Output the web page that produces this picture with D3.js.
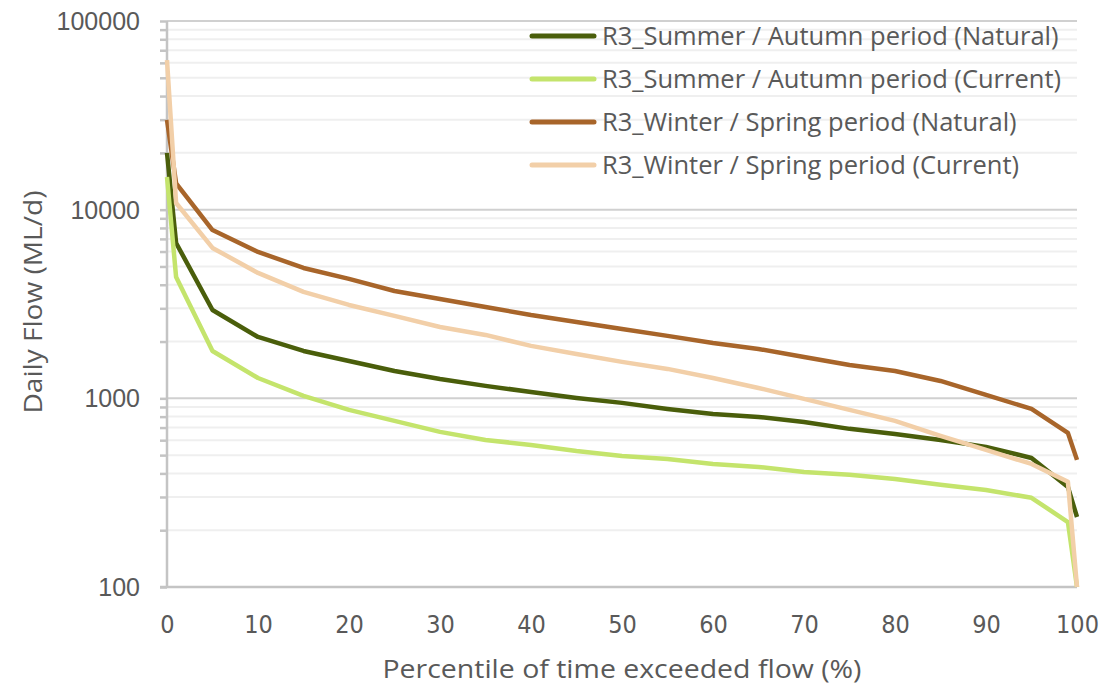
<!DOCTYPE html>
<html>
<head>
<meta charset="utf-8">
<script src="https://cdn.jsdelivr.net/npm/d3@7"></script>
<style>
  html, body { margin: 0; padding: 0; background: #fff; }
  svg { display: block; }
</style>
</head>
<body>
<svg id="chart" width="1106" height="690"></svg>
<script>
// Flow duration curves: percentile of time a daily flow is exceeded
const percentiles = [0, 1, 5, 10, 15, 20, 25, 30, 35, 40, 45, 50, 55, 60, 65, 70, 75, 80, 85, 90, 95, 99, 100];

const summerNatural = [20000, 6660, 2940, 2115, 1783, 1578, 1397, 1267, 1164, 1081, 1005, 946, 879, 826, 797, 750, 689, 647, 602, 553, 483, 339, 235];
const summerCurrent = [14900, 4400, 1783, 1282, 1030, 868, 759, 664, 602, 566, 526, 495, 477, 449, 433, 407, 393, 374, 348, 327, 297, 221, 100];
const winterNatural = [29900, 13800, 7800, 5970, 4910, 4295, 3707, 3363, 3050, 2766, 2541, 2333, 2143, 1966, 1827, 1656, 1503, 1397, 1236, 1042, 879, 656, 472];
const winterCurrent = [62000, 10850, 6270, 4620, 3664, 3126, 2734, 2389, 2168, 1897, 1719, 1560, 1432, 1282, 1135, 993, 868, 759, 632, 533, 449, 361, 100];

const seriesNames = [
  "R3_Summer / Autumn period (Natural)",
  "R3_Summer / Autumn period (Current)",
  "R3_Winter / Spring period (Natural)",
  "R3_Winter / Spring period (Current)"
];
const seriesValues = [summerNatural, summerCurrent, winterNatural, winterCurrent];
const seriesColors = ["#4a5e0b", "#c4e46c", "#a8652a", "#f2cfa8"];

const xTicks = [0, 10, 20, 30, 40, 50, 60, 70, 80, 90, 100];
const yTicks = [100, 1000, 10000, 100000];

const svg = d3.select("#chart");
const plotLeft = 167, plotRight = 1077, plotTop = 21, plotBottom = 587;

const x = d3.scaleLinear().domain([0, 100]).range([plotLeft, plotRight]);
const y = d3.scaleLog().domain([100, 100000]).range([plotBottom, plotTop]).clamp(true);

// minor values 2..9 within each decade
const minorVals = [];
for (let d = 100; d < 100000; d *= 10) {
  for (let k = 2; k <= 9; k++) minorVals.push(d * k);
}

// minor gridlines
svg.append("g").selectAll("line").data(minorVals).join("line")
  .attr("x1", plotLeft).attr("x2", plotRight)
  .attr("y1", d => y(d)).attr("y2", d => y(d))
  .attr("stroke", "#efefef").attr("stroke-width", 2);

// major gridlines
svg.append("g").selectAll("line").data(yTicks.filter(v => v > 100)).join("line")
  .attr("x1", plotLeft).attr("x2", plotRight)
  .attr("y1", d => y(d)).attr("y2", d => y(d))
  .attr("stroke", "#d0d0d0").attr("stroke-width", 2);

// y axis with major and minor tick marks
const yAxisG = svg.append("g").attr("transform", `translate(${plotLeft},0)`);
yAxisG.call(d3.axisLeft(y).tickValues(minorVals).tickSize(7).tickFormat(""));
yAxisG.call(g => g.select(".domain").remove());
const yMajor = svg.append("g").attr("transform", `translate(${plotLeft},0)`)
  .call(d3.axisLeft(y).tickValues(yTicks).tickSize(7).tickPadding(20).tickFormat(d3.format("d")));
yMajor.select(".domain").remove();
svg.selectAll(".tick line").attr("stroke", "#c4c4c4").attr("stroke-width", 2.5);
yMajor.selectAll("text")
  .attr("fill", "#595959")
  .attr("dy", "0.34em")
  .style("font-family", "'Liberation Sans', Arial, sans-serif")
  .style("font-size", "25px");

svg.append("line")
  .attr("x1", plotLeft).attr("x2", plotLeft).attr("y1", plotTop).attr("y2", plotBottom)
  .attr("stroke", "#c4c4c4").attr("stroke-width", 2.5);

// x axis
const xAxisG = svg.append("g").attr("transform", `translate(0,${plotBottom})`)
  .call(d3.axisBottom(x).tickValues(xTicks).tickSize(0).tickPadding(0));
xAxisG.select(".domain").attr("stroke", "#c4c4c4").attr("stroke-width", 2.5)
  .attr("d", `M${plotLeft - 7},0H${plotRight}`);
xAxisG.selectAll("text")
  .attr("y", 37).attr("dy", "0.35em")
  .attr("fill", "#595959")
  .style("font-family", "'Liberation Sans Narrow', 'DejaVu Sans Condensed', sans-serif")
  .style("font-size", "25px");

// curves
const line = d3.line()
  .x((d, i) => x(percentiles[i]))
  .y(d => y(d));

svg.append("g").selectAll("path").data(seriesValues).join("path")
  .attr("d", d => line(d))
  .attr("fill", "none")
  .attr("stroke", (d, i) => seriesColors[i])
  .attr("stroke-width", 4.5)
  .attr("stroke-linejoin", "round");

// legend
const legend = svg.append("g");
seriesNames.forEach((name, i) => {
  const ly = 36 + i * 43;
  legend.append("line")
    .attr("x1", 532).attr("x2", 594).attr("y1", ly).attr("y2", ly)
    .attr("stroke", seriesColors[i]).attr("stroke-width", 5).attr("stroke-linecap", "round");
  legend.append("text")
    .attr("x", 602).attr("y", ly).attr("dy", "0.35em")
    .attr("fill", "#595959")
    .style("font-family", "'Open Sans', sans-serif")
    .style("font-size", "25.5px")
    .text(name);
});

// axis titles
svg.append("text")
  .attr("x", 622).attr("y", 669)
  .attr("text-anchor", "middle").attr("dy", "0.35em")
  .attr("fill", "#595959")
  .attr("textLength", 479).attr("lengthAdjust", "spacingAndGlyphs")
  .style("font-family", "'Open Sans', sans-serif")
  .style("font-size", "26px")
  .text("Percentile of time exceeded flow (%)");

svg.append("text")
  .attr("transform", "translate(33,302) rotate(-90)")
  .attr("text-anchor", "middle").attr("dy", "0.35em")
  .attr("fill", "#595959")
  .attr("textLength", 223).attr("lengthAdjust", "spacingAndGlyphs")
  .style("font-family", "'Open Sans', sans-serif")
  .style("font-size", "26px")
  .text("Daily Flow (ML/d)");
</script>
</body>
</html>
